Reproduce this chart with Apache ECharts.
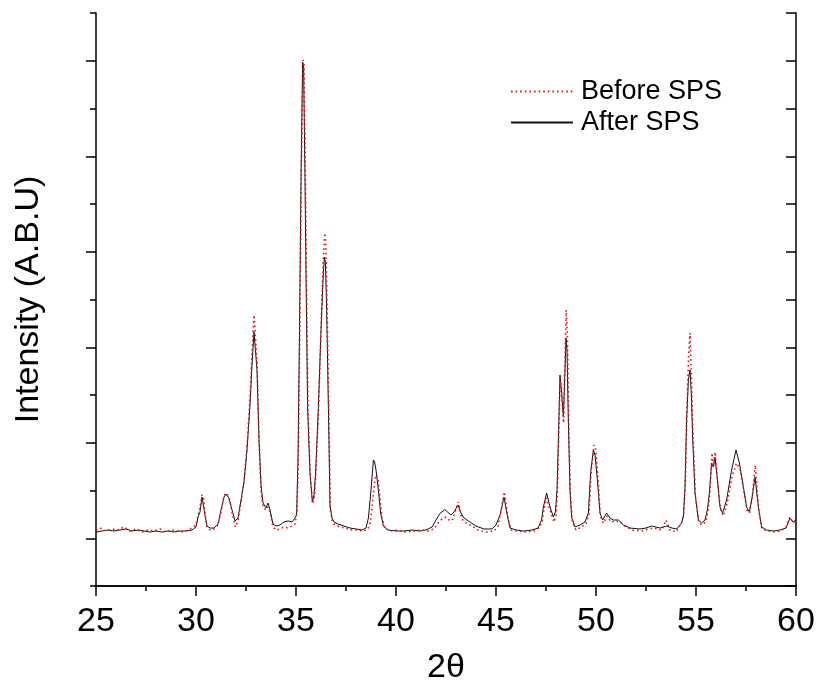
<!DOCTYPE html>
<html>
<head>
<meta charset="utf-8">
<script src="https://cdn.jsdelivr.net/npm/echarts@6/dist/echarts.min.js"></script>
<style>
html,body{margin:0;padding:0;background:#fff;}
#chart{width:817px;height:681px;}
</style>
</head>
<body>
<div id="chart"></div>
<script>
// 2θ ticks
const xTicks = [25, 30, 35, 40, 45, 50, 55, 60];
const yMajorTicks = [50, 150, 250, 350, 450, 550];
const yMinorTicks = [0, 100, 200, 300, 400, 500, 600];

// After SPS (black, solid)
const afterX = [25.0,25.3,25.6,25.9,26.2,26.5,26.8,27.1,27.4,27.7,28.0,28.3,28.6,28.9,29.2,29.5,29.8,30.0,30.1,30.2,30.3,30.35,30.45,30.55,30.7,30.9,31.1,31.25,31.4,31.5,31.65,31.8,31.95,32.1,32.25,32.4,32.55,32.7,32.8,32.9,32.95,33.05,33.15,33.25,33.35,33.5,33.6,33.7,33.85,34.0,34.2,34.4,34.6,34.8,34.95,35.03,35.1,35.17,35.25,35.33,35.38,35.45,35.5,35.58,35.7,35.82,35.9,35.98,36.12,36.25,36.35,36.42,36.47,36.53,36.62,36.7,36.8,36.9,37.1,37.4,37.7,38.0,38.3,38.5,38.62,38.75,38.87,38.93,39.0,39.12,39.23,39.37,39.6,40.0,40.4,40.8,41.2,41.5,41.8,42.0,42.2,42.45,42.6,42.75,42.9,43.1,43.25,43.4,43.7,44.0,44.4,44.8,45.0,45.2,45.4,45.57,45.7,46.0,46.4,46.8,47.1,47.28,47.37,47.53,47.7,47.87,47.97,48.05,48.12,48.2,48.27,48.37,48.45,48.5,48.55,48.62,48.7,48.78,48.95,49.2,49.45,49.62,49.73,49.87,49.95,50.07,50.2,50.33,50.53,50.7,50.87,51.12,51.37,51.7,52.2,52.5,52.78,53.2,53.53,53.8,54.03,54.28,54.37,54.45,54.53,54.62,54.7,54.77,54.83,54.95,55.12,55.28,55.45,55.57,55.67,55.78,55.87,55.95,56.07,56.2,56.33,56.53,56.78,57.0,57.17,57.37,57.53,57.67,57.8,57.95,58.12,58.28,58.53,58.9,59.2,59.5,59.7,59.85,60.0];
const afterY = [56.5,57.6,58.6,57.6,58.6,59.7,57.6,58.6,57.6,56.5,57.6,56.5,57.6,56.5,57.6,57.6,58.6,61.8,72.2,77.5,93.2,92.1,74.3,62.8,60.7,60.7,64.9,79.6,93.2,96.3,92.1,79.6,68.1,71.2,90.0,108.9,142.4,189.5,231.4,265.9,264.9,226.2,152.9,105.7,86.9,81.7,86.9,79.6,64.9,62.8,63.9,67.0,68.1,67.0,71.2,74.3,131.9,257.6,425.1,548.6,545.5,425.1,327.7,187.4,118.3,87.9,95.3,118.3,187.4,268.0,320.4,344.5,339.2,292.1,187.4,83.8,71.2,67.0,64.9,62.8,60.7,59.7,58.6,60.7,71.2,100.5,131.9,129.8,121.5,100.5,76.4,62.8,58.6,57.6,57.6,58.6,57.6,58.6,61.8,69.1,76.0,80.0,77.0,74.3,77.5,84.8,76.4,71.2,67.0,62.8,59.7,59.7,63.9,74.3,93.2,73.3,60.7,58.6,57.6,58.6,60.7,69.1,82.7,97.4,82.7,72.2,77.5,100.5,152.9,220.9,205.2,176.9,226.2,259.7,247.1,170.7,100.5,72.2,61.8,63.9,67.0,76.4,118.3,142.4,137.1,111.0,76.4,69.1,76.4,71.2,69.1,69.1,63.9,60.7,59.7,60.7,62.8,60.7,62.8,60.7,59.7,66.0,73.3,103.7,173.8,215.7,226.2,200.0,156.0,97.4,69.1,66.0,69.1,79.6,97.4,128.8,124.6,135.1,111.0,82.7,76.4,90.0,121.5,142.4,128.8,103.7,82.7,77.5,92.1,114.1,82.7,61.8,58.6,57.6,58.6,60.7,71.2,67.0,69.1];

// Before SPS (red, dotted)
const beforeX = [25.0,25.2,25.5,25.8,26.1,26.4,26.7,27.0,27.3,27.6,27.9,28.2,28.5,28.8,29.1,29.4,29.7,30.0,30.1,30.2,30.3,30.37,30.45,30.55,30.7,30.9,31.1,31.25,31.4,31.5,31.65,31.8,31.97,32.1,32.25,32.4,32.55,32.7,32.8,32.9,32.97,33.05,33.15,33.25,33.35,33.5,33.6,33.7,33.85,34.0,34.2,34.4,34.6,34.8,34.95,35.05,35.12,35.19,35.27,35.35,35.4,35.47,35.52,35.6,35.72,35.83,35.92,36.0,36.14,36.27,36.37,36.44,36.49,36.55,36.64,36.72,36.82,36.95,37.2,37.5,37.8,38.1,38.4,38.6,38.72,38.85,38.95,39.02,39.1,39.2,39.3,39.45,39.7,40.1,40.5,40.9,41.3,41.6,41.9,42.1,42.3,42.5,42.7,42.85,43.0,43.12,43.3,43.5,43.8,44.1,44.5,44.9,45.1,45.25,45.42,45.6,45.75,46.1,46.5,46.9,47.15,47.3,47.4,47.52,47.7,47.9,48.0,48.07,48.14,48.21,48.29,48.38,48.45,48.51,48.57,48.64,48.72,48.82,49.0,49.25,49.5,49.65,49.76,49.9,49.98,50.1,50.22,50.36,50.55,50.75,50.95,51.2,51.45,51.8,52.3,52.6,52.9,53.3,53.5,53.7,54.0,54.25,54.38,54.47,54.55,54.63,54.7,54.77,54.85,54.97,55.15,55.3,55.48,55.6,55.7,55.8,55.88,55.96,56.08,56.22,56.36,56.55,56.8,57.02,57.2,57.4,57.55,57.68,57.82,57.96,58.13,58.3,58.6,58.95,59.25,59.5,59.7,59.85,60.0];
const beforeY = [58.6,60.7,57.6,59.7,58.6,61.8,57.6,59.7,56.5,58.6,57.6,59.7,56.5,58.6,57.6,56.5,59.7,63.9,73.3,82.7,95.3,93.2,76.4,61.8,58.6,59.7,63.9,77.5,94.2,97.4,93.2,77.5,61.8,68.1,88.0,110.0,146.6,196.8,243.9,283.8,282.7,235.6,155.0,100.5,82.7,79.6,82.7,77.5,61.8,58.6,59.7,61.8,60.7,62.8,64.9,77.5,138.2,268.0,439.7,550.7,548.6,431.3,330.8,182.2,113.1,85.9,93.2,120.4,192.6,281.7,345.5,369.6,360.2,298.4,185.3,79.6,67.0,63.9,61.8,60.7,58.6,58.6,57.6,59.7,67.0,92.1,113.1,116.2,112.0,92.1,71.2,60.7,57.6,58.6,56.5,57.6,58.6,57.6,59.7,65.9,70.1,72.2,68.1,70.1,80.6,87.9,70.1,65.9,62.8,58.6,56.5,57.6,62.8,78.5,98.4,71.2,58.6,57.6,56.5,57.6,60.7,67.0,80.6,92.1,79.6,67.0,73.3,99.4,160.2,217.8,200.0,170.7,237.6,289.0,262.8,167.5,95.3,67.0,58.6,61.8,64.9,75.4,120.4,147.6,143.4,113.1,73.3,65.9,73.3,67.0,68.1,67.0,62.8,58.6,57.6,59.7,60.7,58.6,69.1,58.6,56.5,64.9,73.3,108.9,186.4,240.8,264.9,219.9,160.2,94.2,65.9,63.9,67.0,78.5,99.4,139.3,125.6,140.3,108.9,80.6,73.3,85.9,114.1,128.8,122.5,98.4,79.6,76.4,94.2,126.7,80.6,59.7,57.6,56.5,57.6,61.8,72.2,66.0,69.1];

const after = afterX.map((x, i) => [x, afterY[i]]);
const before = beforeX.map((x, i) => [x, beforeY[i]]);

const FONT = 'Liberation Sans, Arial, sans-serif';
const chart = echarts.init(document.getElementById('chart'), null, {renderer: 'canvas'});
chart.setOption({
  backgroundColor: '#ffffff',
  animation: false,
  grid: {left: 96, right: 21, top: 13, bottom: 95, outerBoundsMode: 'none', containLabel: false},
  legend: {
    orient: 'vertical',
    left: 505,
    top: 73,
    itemWidth: 62,
    itemHeight: 12,
    itemGap: 4,
    data: ['Before SPS', 'After SPS'],
    itemStyle: {opacity: 0},
    textStyle: {fontSize: 27, color: '#000', fontFamily: FONT, padding: [0, 0, 0, 3]}
  },
  xAxis: [{
    type: 'value', min: 25, max: 60, interval: 5, position: 'bottom',
    name: '2θ', nameLocation: 'middle', nameGap: 65,
    nameTextStyle: {fontSize: 34, color: '#000', fontFamily: FONT},
    axisLine: {show: true, lineStyle: {color: '#000', width: 1.5}},
    axisTick: {show: true, inside: false, length: 10, lineStyle: {color: '#000', width: 1.5}},
    minorTick: {show: true, splitNumber: 2, length: 5, lineStyle: {color: '#000', width: 1.5}},
    axisLabel: {show: true, fontSize: 34, color: '#000', fontFamily: FONT, margin: 19, customValues: xTicks},
    splitLine: {show: false}
  }, {
    type: 'value', min: 25, max: 60, interval: 5, position: 'top',
    axisLine: {show: true, lineStyle: {color: '#000', width: 1.5}},
    axisTick: {show: true, inside: true, length: 10, lineStyle: {color: '#000', width: 1.5}},
    axisLabel: {show: false},
    splitLine: {show: false}
  }],
  yAxis: [{
    type: 'value', min: 0, max: 600, position: 'left',
    name: 'Intensity (A.B.U)', nameLocation: 'middle', nameGap: 50,
    nameTextStyle: {fontSize: 34, color: '#000', fontFamily: FONT},
    axisLine: {show: true, lineStyle: {color: '#000', width: 1.5}},
    axisTick: {show: true, inside: false, length: 10, customValues: yMajorTicks, lineStyle: {color: '#000', width: 1.5}},
    axisLabel: {show: false},
    splitLine: {show: false}
  }, {
    type: 'value', min: 0, max: 600, position: 'left', offset: 0,
    axisLine: {show: false},
    axisTick: {show: true, inside: false, length: 6, customValues: yMinorTicks, lineStyle: {color: '#000', width: 1.5}},
    axisLabel: {show: false},
    splitLine: {show: false}
  }, {
    type: 'value', min: 0, max: 600, interval: 50, position: 'right',
    axisLine: {show: true, lineStyle: {color: '#000', width: 1.5}},
    axisTick: {show: true, inside: true, length: 10, lineStyle: {color: '#000', width: 1.5}},
    axisLabel: {show: false},
    splitLine: {show: false}
  }],
  series: [{
    name: 'After SPS', type: 'line', data: after, xAxisIndex: 0, yAxisIndex: 0,
    symbol: 'none', smooth: false,
    lineStyle: {color: '#111', width: 1},
    itemStyle: {color: '#111'}
  }, {
    name: 'Before SPS', type: 'line', data: before, xAxisIndex: 0, yAxisIndex: 0,
    symbol: 'none', smooth: false,
    lineStyle: {color: '#e8141c', width: 1.6, type: [1.6, 3]},
    itemStyle: {color: '#e8141c'}
  }]
});
</script>
</body>
</html>
